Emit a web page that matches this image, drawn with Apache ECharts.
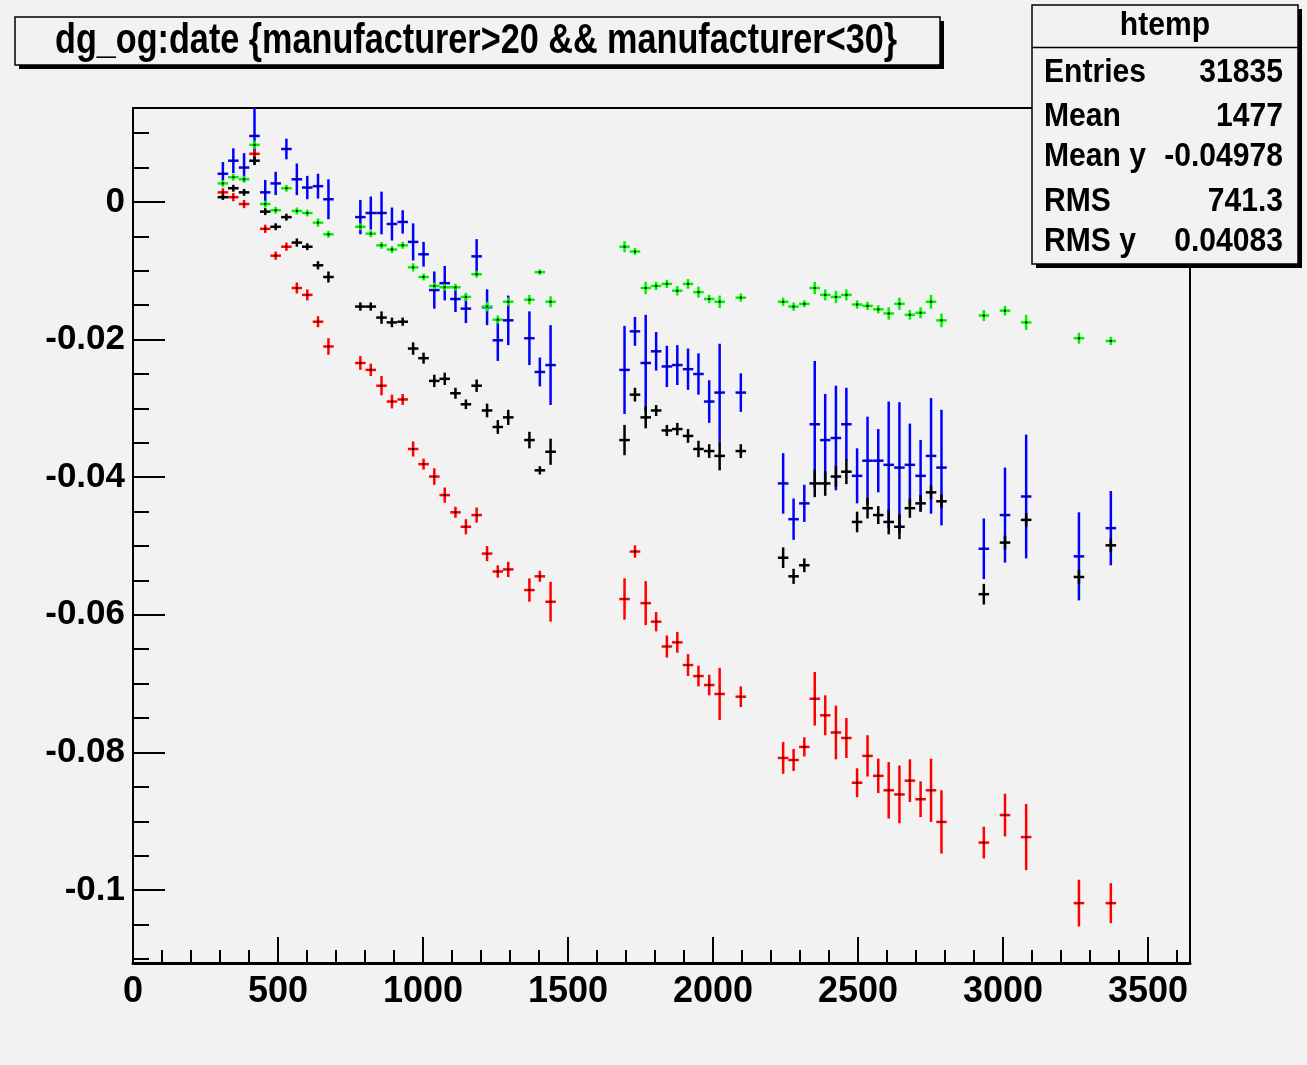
<!DOCTYPE html>
<html><head><meta charset="utf-8">
<script src="https://cdn.jsdelivr.net/npm/echarts@6/dist/echarts.min.js"></script>
<style>html,body{margin:0;padding:0;background:#f2f2f2;} #c{width:1307px;height:1065px;}</style>
</head><body><div id="c"></div>
<script>
// ---- data ----
const xBins = [310,346,383,419,456,492,529,565,601,638,674,
  784,820,857,893,930,966,1002,1039,1075,1112,1148,1185,1221,1258,1294,1367,1403,1440,
  1695,1731,1768,1804,1841,1877,1914,1950,1987,2023,2096,
  2242,2278,2315,2351,2387,2424,2460,2497,2533,2570,2606,2643,2679,2716,2752,2788,
  2934,3007,3080,3262,3372];
const binHalfWidth = 18.2;

const greenY = [0.0027,0.0036,0.0033,0.0083,-0.0003,-0.0012,0.0020,-0.0013,-0.0016,-0.0030,-0.0047,
  -0.0036,-0.0046,-0.0063,-0.0069,-0.0063,-0.0095,-0.0109,-0.0122,-0.0124,-0.0124,-0.0138,-0.0105,-0.0152,-0.0171,-0.0145,-0.0142,-0.0102,-0.0145,
  -0.0065,-0.0072,-0.0125,-0.0122,-0.0119,-0.0129,-0.0119,-0.0131,-0.0141,-0.0145,-0.0139,
  -0.0145,-0.0152,-0.0148,-0.0125,-0.0135,-0.0138,-0.0135,-0.0149,-0.0151,-0.0156,-0.0162,-0.0148,-0.0164,-0.0161,-0.0145,-0.0172,
  -0.0165,-0.0158,-0.0175,-0.0198,-0.0202];
const greenErr = [0.0005,0.0005,0.0005,0.0006,0.0005,0.0005,0.0005,0.0005,0.0005,0.0006,0.0005,
  0.0005,0.0005,0.0005,0.0005,0.0005,0.0006,0.0005,0.0005,0.0005,0.0005,0.0006,0.0005,0.0007,0.0006,0.0006,0.0007,0.0004,0.0008,
  0.0008,0.0005,0.0009,0.0006,0.0006,0.0007,0.0007,0.0008,0.0006,0.0009,0.0006,
  0.0006,0.0006,0.0005,0.0009,0.0008,0.0009,0.0008,0.0006,0.0006,0.0006,0.0009,0.0009,0.0007,0.0008,0.0010,0.0010,
  0.0008,0.0007,0.0011,0.0008,0.0006];

const blueY = [0.0041,0.0060,0.0050,0.0096,0.0014,0.0027,0.0077,0.0033,0.0021,0.0023,0.0004,
  -0.0022,-0.0016,-0.0016,-0.0032,-0.0029,-0.0058,-0.0076,-0.0128,-0.0118,-0.0141,-0.0155,-0.0079,-0.0153,-0.0201,-0.0172,-0.0198,-0.0247,-0.0237,
  -0.0244,-0.0188,-0.0234,-0.0217,-0.0239,-0.0237,-0.0243,-0.0250,-0.0290,-0.0277,-0.0277,
  -0.0409,-0.0461,-0.0438,-0.0323,-0.0346,-0.0343,-0.0323,-0.0398,-0.0376,-0.0376,-0.0382,-0.0386,-0.0382,-0.0398,-0.0369,-0.0386,
  -0.0504,-0.0455,-0.0428,-0.0515,-0.0474];
const blueErr = [0.0017,0.0018,0.0021,0.0042,0.0018,0.0017,0.0015,0.0023,0.0017,0.0018,0.0029,
  0.0025,0.0024,0.0031,0.0024,0.0017,0.0027,0.0018,0.0027,0.0025,0.0019,0.0021,0.0025,0.0026,0.0030,0.0036,0.0039,0.0021,0.0058,
  0.0064,0.0021,0.0070,0.0028,0.0030,0.0029,0.0030,0.0030,0.0031,0.0071,0.0028,
  0.0044,0.0030,0.0027,0.0092,0.0067,0.0076,0.0053,0.0040,0.0064,0.0046,0.0092,0.0095,0.0060,0.0052,0.0084,0.0084,
  0.0044,0.0069,0.0090,0.0064,0.0054];

const blackY = [0.0007,0.0020,0.0014,0.0060,-0.0014,-0.0036,-0.0022,-0.0059,-0.0065,-0.0092,-0.0109,
  -0.0152,-0.0152,-0.0168,-0.0175,-0.0174,-0.0213,-0.0227,-0.0260,-0.0257,-0.0278,-0.0294,-0.0267,-0.0303,-0.0327,-0.0313,-0.0346,-0.0390,-0.0363,
  -0.0346,-0.0280,-0.0313,-0.0303,-0.0332,-0.0330,-0.0340,-0.0359,-0.0362,-0.0369,-0.0362,
  -0.0517,-0.0544,-0.0528,-0.0409,-0.0409,-0.0399,-0.0392,-0.0465,-0.0445,-0.0455,-0.0465,-0.0472,-0.0445,-0.0438,-0.0422,-0.0435,
  -0.0570,-0.0495,-0.0462,-0.0545,-0.0499];
const blackErr = [0.0004,0.0005,0.0005,0.0006,0.0005,0.0005,0.0005,0.0006,0.0005,0.0006,0.0008,
  0.0006,0.0006,0.0009,0.0007,0.0006,0.0009,0.0008,0.0009,0.0009,0.0008,0.0007,0.0009,0.0010,0.0010,0.0011,0.0012,0.0006,0.0019,
  0.0022,0.0010,0.0016,0.0008,0.0008,0.0009,0.0010,0.0012,0.0010,0.0021,0.0010,
  0.0015,0.0011,0.0010,0.0020,0.0018,0.0015,0.0018,0.0015,0.0015,0.0013,0.0018,0.0018,0.0014,0.0012,0.0010,0.0010,
  0.0015,0.0010,0.0010,0.0010,0.0010];

const redY = [0.0014,0.0007,-0.0003,0.0070,-0.0039,-0.0078,-0.0065,-0.0125,-0.0135,-0.0174,-0.0210,
  -0.0234,-0.0244,-0.0267,-0.0290,-0.0287,-0.0359,-0.0381,-0.0399,-0.0426,-0.0451,-0.0472,-0.0455,-0.0511,-0.0537,-0.0534,-0.0564,-0.0544,-0.0581,
  -0.0577,-0.0508,-0.0583,-0.0610,-0.0646,-0.0640,-0.0673,-0.0689,-0.0702,-0.0715,-0.0719,
  -0.0808,-0.0811,-0.0792,-0.0722,-0.0746,-0.0771,-0.0779,-0.0844,-0.0805,-0.0834,-0.0855,-0.0861,-0.0841,-0.0868,-0.0855,-0.0901,
  -0.0931,-0.0891,-0.0923,-0.1019,-0.1019];
const redErr = [0.0006,0.0006,0.0006,0.0006,0.0006,0.0006,0.0006,0.0008,0.0008,0.0008,0.0012,
  0.0010,0.0009,0.0014,0.0010,0.0008,0.0011,0.0008,0.0012,0.0011,0.0008,0.0011,0.0011,0.0011,0.0009,0.0011,0.0017,0.0008,0.0029,
  0.0030,0.0009,0.0032,0.0014,0.0016,0.0015,0.0016,0.0015,0.0015,0.0038,0.0015,
  0.0023,0.0016,0.0014,0.0039,0.0029,0.0039,0.0029,0.0021,0.0030,0.0025,0.0041,0.0042,0.0031,0.0026,0.0046,0.0046,
  0.0023,0.0031,0.0048,0.0034,0.0029];

const xMajorTicks = [0,500,1000,1500,2000,2500,3000,3500];
const xTickLabels = ['0','500','1000','1500','2000','2500','3000','3500'];
const xMinorTicks = [100,200,300,400,600,700,800,900,1100,1200,1300,1400,1600,1700,1800,1900,
  2100,2200,2300,2400,2600,2700,2800,2900,3100,3200,3300,3400,3600];
const yMajorTicks = [-0.1,-0.08,-0.06,-0.04,-0.02,0];
const yTickLabels = ['-0.1','-0.08','-0.06','-0.04','-0.02','0'];
const yMinorTicks = [-0.11,-0.105,-0.095,-0.09,-0.085,-0.075,-0.07,-0.065,-0.055,-0.05,-0.045,
  -0.035,-0.03,-0.025,-0.015,-0.01,-0.005,0.005,0.01];

const titleText = 'dg_og:date {manufacturer>20 && manufacturer<30}';
const statsName = 'htemp';
const statsLabels = ['Entries','Mean','Mean y','RMS','RMS y'];
const statsValues = ['31835','1477','-0.04978','741.3','0.04083'];

// ---- layout ----
const X_MIN = 0, X_MAX = 3645, Y_MIN = -0.1106, Y_MAX = 0.01366;
const FONT = '"Liberation Sans", Arial, Helvetica, sans-serif';

function measure(text, font) {
  const c = document.createElement('canvas').getContext('2d');
  c.font = font; return c.measureText(text).width;
}
function labelFrom(ticks, labels) {
  return v => { const i = ticks.findIndex(t => Math.abs(t - v) < 1e-9); return i >= 0 ? labels[i] : ''; };
}

function buildData(ys, errs) { return xBins.map((x, i) => [x, ys[i], errs[i]]); }

function crossRenderer(color) {
  return function (params, api) {
    const x = api.value(0), y = api.value(1), e = api.value(2);
    const pL = api.coord([x - binHalfWidth, y]);
    const pR = api.coord([x + binHalfWidth, y]);
    const pT = api.coord([x, y + e]);
    const pB = api.coord([x, y - e]);
    const c = api.coord([x, y]);
    return { type: 'group', children: [
      { type: 'line', shape: { x1: pL[0], y1: pL[1], x2: pR[0], y2: pR[1] }, style: { stroke: color, lineWidth: 2.5 } },
      { type: 'line', shape: { x1: pT[0], y1: pT[1], x2: pB[0], y2: pB[1] }, style: { stroke: color, lineWidth: 2.5 } },
      { type: 'rect', shape: { x: c[0] - 1, y: c[1] - 1, width: 2, height: 2 }, style: { fill: '#000' } }
    ]};
  };
}

const seriesDefs = [
  { name: 'blue', color: '#0000ff', ys: blueY, errs: blueErr },
  { name: 'green', color: '#00f000', ys: greenY, errs: greenErr },
  { name: 'red', color: '#ff0000', ys: redY, errs: redErr },
  { name: 'black', color: '#000000', ys: blackY, errs: blackErr }
];

const titleFont = 'bold 42px ' + FONT;
const titleScale = 842 / measure(titleText, titleFont);
const statFont = 'bold 34px ' + FONT;
const statScale = 102 / measure('Entries', statFont);

const statRowsY = [73, 117, 157, 202, 242];
const statGraphics = [];
statsLabels.forEach((lab, i) => {
  statGraphics.push({ type: 'text', x: 1044, y: statRowsY[i], scaleX: statScale, z: 102,
    style: { text: lab, font: statFont, fill: '#000', textAlign: 'left', textVerticalAlign: 'middle' } });
  statGraphics.push({ type: 'text', x: 1283, y: statRowsY[i], scaleX: statScale, z: 102,
    style: { text: statsValues[i], font: statFont, fill: '#000', textAlign: 'right', textVerticalAlign: 'middle' } });
});

const chart = echarts.init(document.getElementById('c'), null, { renderer: 'canvas' });
chart.setOption({
  backgroundColor: '#f2f2f2',
  animation: false,
  grid: { left: 133, top: 108, width: 1057, height: 855, show: true, borderColor: '#000', borderWidth: 2,
          backgroundColor: 'transparent', containLabel: false, outerBoundsMode: 'none' },
  xAxis: [
    { type: 'value', min: X_MIN, max: X_MAX, position: 'bottom',
      axisLine: { show: true, onZero: false, lineStyle: { color: '#000', width: 3 } },
      axisTick: { show: true, inside: true, length: 26, customValues: xMajorTicks, lineStyle: { color: '#000', width: 2 } },
      axisLabel: { show: true, customValues: xMajorTicks, formatter: labelFrom(xMajorTicks, xTickLabels),
                   color: '#000', fontFamily: FONT, fontWeight: 'bold', fontSize: 36, margin: 11 },
      splitLine: { show: false } },
    { type: 'value', min: X_MIN, max: X_MAX, position: 'bottom',
      axisLine: { show: false, onZero: false },
      axisTick: { show: true, inside: true, length: 13, customValues: xMinorTicks, lineStyle: { color: '#000', width: 2 } },
      axisLabel: { show: false }, splitLine: { show: false } }
  ],
  yAxis: [
    { type: 'value', min: Y_MIN, max: Y_MAX, position: 'left',
      axisLine: { show: true, onZero: false, lineStyle: { color: '#000', width: 2 } },
      axisTick: { show: true, inside: true, length: 32, customValues: yMajorTicks, lineStyle: { color: '#000', width: 2 } },
      axisLabel: { show: true, customValues: yMajorTicks, formatter: labelFrom(yMajorTicks, yTickLabels),
                   color: '#000', fontFamily: FONT, fontWeight: 'bold', fontSize: 35, margin: 8 },
      splitLine: { show: false } },
    { type: 'value', min: Y_MIN, max: Y_MAX, position: 'left', offset: 0,
      axisLine: { show: false, onZero: false },
      axisTick: { show: true, inside: true, length: 16, customValues: yMinorTicks, lineStyle: { color: '#000', width: 2 } },
      axisLabel: { show: false }, splitLine: { show: false } }
  ],
  series: seriesDefs.map(s => ({
    type: 'custom', name: s.name, xAxisIndex: 0, yAxisIndex: 0, clip: true,
    renderItem: crossRenderer(s.color), encode: { x: 0, y: 1 },
    data: buildData(s.ys, s.errs)
  })),
  graphic: [
    { type: 'rect', shape: { x: 19, y: 21, width: 925, height: 48 }, style: { fill: '#000' }, z: 100 },
    { type: 'rect', shape: { x: 15, y: 17, width: 925, height: 48 }, style: { fill: '#f2f2f2', stroke: '#000', lineWidth: 1.5 }, z: 101 },
    { type: 'text', x: 476, y: 41, scaleX: titleScale, z: 102,
      style: { text: titleText, font: titleFont, fill: '#000', textAlign: 'center', textVerticalAlign: 'middle' } },
    { type: 'rect', shape: { x: 1036, y: 9, width: 266, height: 259 }, style: { fill: '#000' }, z: 100 },
    { type: 'rect', shape: { x: 1032, y: 5, width: 266, height: 259 }, style: { fill: '#f2f2f2', stroke: '#000', lineWidth: 1.5 }, z: 101 },
    { type: 'line', shape: { x1: 1032, y1: 47.5, x2: 1298, y2: 47.5 }, style: { stroke: '#000', lineWidth: 1.5 }, z: 102 },
    { type: 'text', x: 1165, y: 26, scaleX: statScale, z: 102,
      style: { text: statsName, font: statFont, fill: '#000', textAlign: 'center', textVerticalAlign: 'middle' } }
  ].concat(statGraphics)
});
</script>
</body></html>
